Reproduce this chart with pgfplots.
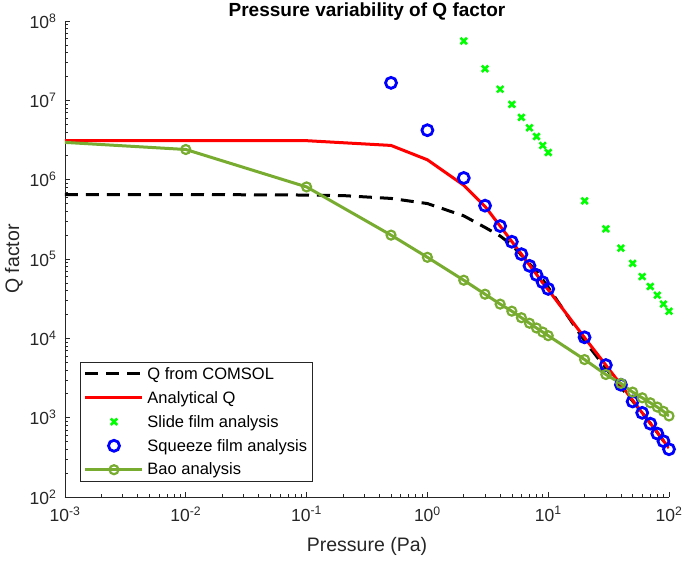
\documentclass[border=0pt]{standalone}
\usepackage{pgfplots}
\pgfplotsset{compat=1.18}
\usepackage{fontspec}
\setmainfont{Liberation Sans}
\definecolor{baocol}{rgb}{0.466,0.674,0.188}
\definecolor{axgray}{rgb}{0.15,0.15,0.15}
\pgfplotsset{baolegend/.style={legend image code/.code={\draw[##1, mark indices={2}] plot coordinates {(0bp,0bp) (28.5bp,0bp) (57bp,0bp)};}}}
\begin{document}
\begin{tikzpicture}
\path[use as bounding box] (0,0) rectangle (685bp,561bp);
\begin{axis}[
  at={(65bp,64bp)}, anchor=south west,
  scale only axis, width=604bp, height=476bp,
  xmode=log, ymode=log,
  xmin=1e-3, xmax=1e2, ymin=1e2, ymax=1e8,
  axis x line*=bottom, axis y line*=left,
  axis line style={axgray, line width=0.8bp, -},
  tick align=inside,
  major tick length=5bp, minor tick length=3bp,
  every tick/.style={axgray, line width=0.6bp},
  xtick={1e-3,1e-2,1e-1,1,10,100},
  xticklabels={10\textsuperscript{-3},10\textsuperscript{-2},10\textsuperscript{-1},10\textsuperscript{0},10\textsuperscript{1},10\textsuperscript{2}},
  ytick={1e2,1e3,1e4,1e5,1e6,1e7,1e8},
  yticklabels={10\textsuperscript{2},10\textsuperscript{3},10\textsuperscript{4},10\textsuperscript{5},10\textsuperscript{6},10\textsuperscript{7},10\textsuperscript{8}},
  ticklabel style={font=\fontsize{17.5bp}{20bp}\selectfont, text=axgray},
  xticklabel style={yshift=-6bp},
  yticklabel style={xshift=-5bp},
  xlabel={Pressure (Pa)},
  ylabel={Q factor},
  label style={font=\fontsize{19.5bp}{22bp}\selectfont, text=axgray},
  xlabel style={yshift=-9bp},
  ylabel style={yshift=0bp},
  every axis title shift=0pt,
  title={\textbf{Pressure variability of Q factor}},
  title style={font=\fontsize{19bp}{22bp}\selectfont, at={(0.5,1)}, anchor=base, yshift=4bp},
  legend image code/.code={\draw[mark repeat=2,mark phase=2,#1] plot coordinates {(0bp,0bp) (28.5bp,0bp) (57bp,0bp)};},
  legend style={at={(0.025,0.284)}, anchor=north west, draw=axgray, line width=0.8bp,
    font=\fontsize{16.5bp}{19bp}\selectfont, row sep=7.5bp, inner sep=3.5bp, column sep=2bp,
    nodes={inner sep=1.5bp}},
  legend cell align=left,
]
\addplot[black, line width=3bp, dash pattern=on 13bp off 8bp] coordinates {
(0.001,6.5e5) (0.01,6.5e5) (0.1,6.4e5) (0.2,6.3e5) (0.5,5.8e5) (1,5.0e5) (2,3.5e5) (3,2.5e5) (4,1.95e5) (5,1.5e5) (6,1.12e5) (7,8.7e4) (8,6.9e4) (9,5.5e4) (10,4.4e4) (20,9.3e3) (30,4.2e3) (40,2.4e3) (50,1.62e3) (60,1.15e3) (70,850) (80,650) (90,510) (100,420)};
\addlegendentry{Q from COMSOL}
\addplot[red, line width=3bp] coordinates {
(0.001,3.1e6) (0.01,3.1e6) (0.1,3.1e6) (0.5,2.7e6) (1,1.78e6) (2,8.5e5) (3,4.6e5) (4,2.6e5) (5,1.66e5) (6,1.15e5) (7,8.4e4) (8,6.4e4) (9,5.0e4) (10,4.1e4) (20,1.02e4) (30,4.6e3) (40,2.6e3) (50,1.66e3) (60,1.15e3) (70,850) (80,650) (90,510) (100,415)};
\addlegendentry{Analytical Q}
\addplot[only marks, mark=x, mark size=4.5bp, color={rgb,1:red,0;green,1;blue,0}, mark options={line width=2.6bp}] coordinates {
(2,5.6e7) (3,2.5e7) (4,1.38e7) (5,8.9e6) (6,6.1e6) (7,4.5e6) (8,3.5e6) (9,2.7e6) (10,2.2e6) (20,5.4e5) (30,2.4e5) (40,1.37e5) (50,8.8e4) (60,6.0e4) (70,4.5e4) (80,3.5e4) (90,2.7e4) (100,2.2e4)};
\addlegendentry{Slide film analysis}
\addplot[only marks, mark=o, mark size=5.5bp, blue, mark options={line width=2.8bp}] coordinates {
(0.5,1.66e7) (1,4.2e6) (2,1.05e6) (3,4.7e5) (4,2.6e5) (5,1.65e5) (6,1.15e5) (7,8.2e4) (8,6.3e4) (9,5.1e4) (10,4.2e4) (20,1.03e4) (30,4.6e3) (40,2.6e3) (50,1.6e3) (60,1.15e3) (70,840) (80,630) (90,505) (100,400)};
\addlegendentry{Squeeze film analysis}
\addplot[baocol, line width=3bp, mark=o, mark size=4.5bp, mark options={line width=2.2bp}, mark indices={2,...,23}, baolegend] coordinates {
(0.001,2.95e6) (0.01,2.4e6) (0.1,8.1e5) (0.5,2.0e5) (1,1.05e5) (2,5.4e4) (3,3.6e4) (4,2.7e4) (5,2.2e4) (6,1.82e4) (7,1.55e4) (8,1.35e4) (9,1.2e4) (10,1.08e4) (20,5.4e3) (30,3.5e3) (40,2.7e3) (50,2.1e3) (60,1.78e3) (70,1.54e3) (80,1.36e3) (90,1.2e3) (100,1.05e3)};
\addlegendentry{Bao analysis}
\end{axis}
\end{tikzpicture}
\end{document}
